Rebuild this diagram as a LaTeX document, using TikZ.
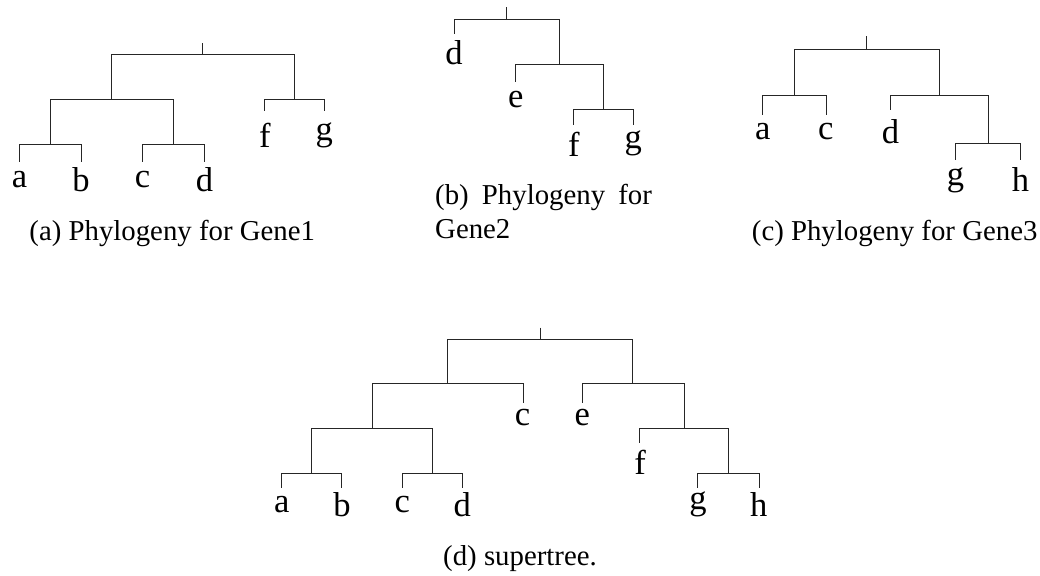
\documentclass[tikz,border=0pt]{standalone}
\usepackage{fontspec}
\setmainfont{Liberation Serif}
\newcommand\leaffont{\fontsize{34.56}{41}\selectfont}
\newcommand\captfont{\fontsize{28.8}{34.56}\selectfont}
\tikzset{
  branch/.style={line width=1.1pt, draw=black!85, line join=miter},
  leaflabel/.style={font=\leaffont, inner sep=0pt, anchor=center},
  captlabel/.style={font=\captfont, inner sep=0pt, anchor=base},
}
\begin{document}
\begin{tikzpicture}[x=1pt,y=-1pt]
\useasboundingbox (0,0) rectangle (1040,575);

% ---------- (a) Gene1 ----------
\coordinate (aT)  at (202.5,43.5);
\coordinate (a0)  at (202.5,54.5);
\coordinate (aL)  at (111.5,99.5);
\coordinate (aR)  at (294.5,99.5);
\coordinate (aAB) at (50.5,144.5);
\coordinate (aCD) at (173.5,144.5);
\coordinate (ta) at (19.5,162);
\coordinate (tb) at (81.5,162);
\coordinate (tc) at (142.5,162);
\coordinate (td) at (204.5,162);
\coordinate (tf) at (264.5,111.5);
\coordinate (tg) at (324.5,111.5);
\draw[branch] (aT) -- (a0);
\draw[branch] (a0) -| (aL);  \draw[branch] (a0) -| (aR);
\draw[branch] (aL) -| (aAB); \draw[branch] (aL) -| (aCD);
\draw[branch] (aAB) -| (ta); \draw[branch] (aAB) -| (tb);
\draw[branch] (aCD) -| (tc); \draw[branch] (aCD) -| (td);
\draw[branch] (aR) -| (tf);  \draw[branch] (aR) -| (tg);
\node[leaflabel] (la) at (19.5,179.5) {a};
\node[leaflabel] (lb) at (81,179.5) {b};
\node[leaflabel] (lc) at (142.5,179.5) {c};
\node[leaflabel] (ld) at (204.5,179.5) {d};
\node[leaflabel] (lf) at (265,135) {f};
\node[leaflabel] (lg) at (324.3,135) {g};
\node[captlabel] (capa) at (172.2,240) {(a) Phylogeny for Gene1};

% ---------- (b) Gene2 ----------
\coordinate (bT)  at (506.5,7.5);
\coordinate (b0)  at (506.5,19.5);
\coordinate (bR)  at (559.5,64.5);
\coordinate (bRR) at (603.5,109.5);
\coordinate (ubd) at (454.5,34);
\coordinate (ube) at (515.5,82.5);
\coordinate (ubf) at (573.5,125);
\coordinate (ubg) at (633.5,125);
\draw[branch] (bT) -- (b0);
\draw[branch] (b0) -| (ubd); \draw[branch] (b0) -| (bR);
\draw[branch] (bR) -| (ube); \draw[branch] (bR) -| (bRR);
\draw[branch] (bRR) -| (ubf); \draw[branch] (bRR) -| (ubg);
\node[leaflabel] (mbd) at (454,52.2) {d};
\node[leaflabel] (mbe) at (515.8,99.5) {e};
\node[leaflabel] (mbf) at (573.8,144.2) {f};
\node[leaflabel] (mbg) at (633.3,143.8) {g};
\node[font=\captfont, inner sep=0pt, anchor=base west] (capb1) at (435,204)
  {\makebox[216.7pt][s]{(b) Phylogeny for}};
\node[font=\captfont, inner sep=0pt, anchor=base west] (capb2) at (435,238.3) {Gene2};

% ---------- (c) Gene3 ----------
\coordinate (cT)  at (866.5,36.5);
\coordinate (c0)  at (866.5,49.5);
\coordinate (cL)  at (794.5,95.5);
\coordinate (cR)  at (939.5,95.5);
\coordinate (cRR) at (988.5,143.5);
\coordinate (uca) at (762.5,115);
\coordinate (ucc) at (826.5,115);
\coordinate (ucd) at (890.5,110.5);
\coordinate (ucg) at (955.5,159.5);
\coordinate (uch) at (1020.5,159.5);
\draw[branch] (cT) -- (c0);
\draw[branch] (c0) -| (cL);  \draw[branch] (c0) -| (cR);
\draw[branch] (cL) -| (uca); \draw[branch] (cL) -| (ucc);
\draw[branch] (cR) -| (ucd); \draw[branch] (cR) -| (cRR);
\draw[branch] (cRR) -| (ucg); \draw[branch] (cRR) -| (uch);
\node[leaflabel] (mca) at (762.8,131.5) {a};
\node[leaflabel] (mcc) at (825.8,131.5) {c};
\node[leaflabel] (mcd) at (890.5,131.5) {d};
\node[leaflabel] (mcg) at (955.5,180) {g};
\node[leaflabel] (mch) at (1020.5,180) {h};
\node[font=\captfont, inner sep=0pt, anchor=base west] (capc) at (751.7,240) {(c) Phylogeny for Gene3};

% ---------- (d) supertree ----------
\coordinate (dT)  at (540.5,327.5);
\coordinate (d0)  at (540.5,339.5);
\coordinate (dL)  at (447.5,383.5);
\coordinate (dR)  at (632.5,383.5);
\coordinate (dLL) at (372.5,428.5);
\coordinate (dRR) at (684.5,428.5);
\coordinate (dAB) at (311.5,473.5);
\coordinate (dCD) at (432.5,473.5);
\coordinate (dGH) at (728.5,473.5);
\coordinate (udcm) at (523.5,402.5);
\coordinate (ude)  at (582.5,402.5);
\coordinate (udf)  at (639.5,443);
\coordinate (uda)  at (281.5,487.5);
\coordinate (udb)  at (341.5,487.5);
\coordinate (udc)  at (402.5,487.5);
\coordinate (udd)  at (462.5,487.5);
\coordinate (udg)  at (697.5,487.5);
\coordinate (udh)  at (759.5,487.5);
\draw[branch] (dT) -- (d0);
\draw[branch] (d0) -| (dL);   \draw[branch] (d0) -| (dR);
\draw[branch] (dL) -| (dLL);  \draw[branch] (dL) -| (udcm);
\draw[branch] (dLL) -| (dAB); \draw[branch] (dLL) -| (dCD);
\draw[branch] (dAB) -| (uda); \draw[branch] (dAB) -| (udb);
\draw[branch] (dCD) -| (udc); \draw[branch] (dCD) -| (udd);
\draw[branch] (dR) -| (ude);  \draw[branch] (dR) -| (dRR);
\draw[branch] (dRR) -| (udf); \draw[branch] (dRR) -| (dGH);
\draw[branch] (dGH) -| (udg); \draw[branch] (dGH) -| (udh);
\node[leaflabel] (mdcm) at (522.5,417.2) {c};
\node[leaflabel] (mde)  at (582.2,417.2) {e};
\node[leaflabel] (mdf)  at (640,462.2) {f};
\node[leaflabel] (mda)  at (281.7,504.5) {a};
\node[leaflabel] (mdb)  at (342,504.5) {b};
\node[leaflabel] (mdc)  at (402.4,504.5) {c};
\node[leaflabel] (mdd)  at (462.3,504.5) {d};
\node[leaflabel] (mdg)  at (698,504.5) {g};
\node[leaflabel] (mdh)  at (758.8,504.5) {h};
\node[captlabel] (capd) at (520,565) {(d) supertree.};
\end{tikzpicture}
\end{document}
